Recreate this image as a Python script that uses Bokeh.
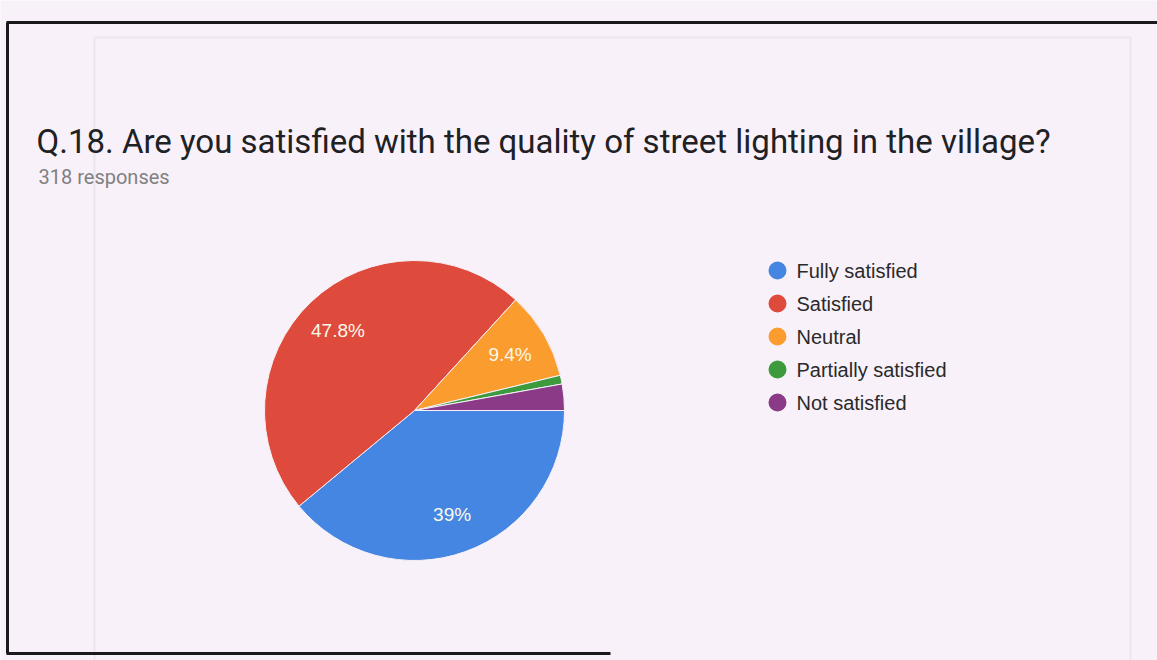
import math
from bokeh.plotting import figure
from bokeh.models import Range1d, ColumnDataSource
from bokeh.core.properties import value
from bokeh.embed import file_html
from bokeh.resources import INLINE

# ---- data ----
categories = ["Fully satisfied", "Satisfied", "Neutral", "Partially satisfied", "Not satisfied"]
counts = [124, 152, 30, 3, 9]
colors = ["#4486e2", "#de4a3b", "#fb9c2e", "#3d9a3d", "#8b3a87"]
title_text = "Q.18. Are you satisfied with the quality of street lighting in the village?"
subtitle_text = "318 responses"

W, H = 1157, 660
def X(px):
    return px
def Y(py):
    return H - py

p = figure(width=W, height=H, output_backend="svg", toolbar_location=None,
           x_range=Range1d(0, W), y_range=Range1d(0, H), min_border=0)
p.axis.visible = False
p.grid.visible = False
p.outline_line_color = None
p.background_fill_color = "#f8f1f9"
p.border_fill_color = "#f8f1f9"

# faint card frame (scan background)
p.multi_line(xs=[[X(94), X(94)], [X(94), X(1130)], [X(1130), X(1130)]],
             ys=[[Y(37), Y(660)], [Y(37), Y(37)], [Y(37), Y(660)]],
             line_color="#ebe5ef", line_width=2)

# black scan border: left, top, bottom
p.multi_line(xs=[[X(7), X(7)], [X(6), X(1157)], [X(6), X(610)]],
             ys=[[Y(22), Y(653)], [Y(22), Y(22)], [Y(653), Y(653)]],
             line_color="#1a1a1a", line_width=3)

# ---- pie ----
total = float(sum(counts))
starts, ends, mids = [], [], []
cum = 0.0
for c in counts:
    a0 = -2 * math.pi * cum / total
    cum += c
    a1 = -2 * math.pi * cum / total
    starts.append(a0)
    ends.append(a1)
    mids.append((a0 + a1) / 2)

cx, cy, r = X(414), Y(410), 150
src = ColumnDataSource(dict(start=starts, end=ends, color=colors, cat=categories))
p.wedge(x=cx, y=cy, radius=r, start_angle="start", end_angle="end",
        direction="clock", fill_color="color", line_color="#f8f1f9",
        line_width=1, source=src)

# slice labels (only larger slices)
lx, ly, lt = [], [], []
for c, m in zip(counts, mids):
    frac = c / total
    if frac < 0.05:
        continue
    pct = round(frac * 100, 1)
    txt = (f"{pct:.0f}%" if abs(pct - round(pct)) < 0.05 else f"{pct:.1f}%")
    lx.append(cx + 0.74 * r * math.cos(m))
    ly.append(cy + 0.74 * r * math.sin(m))
    lt.append(txt)
p.text(x=lx, y=ly, text=lt, text_color="#fcf8ec", text_font=value("Liberation Sans"),
       text_font_size="19px", text_align="center", text_baseline="middle")

# ---- legend ----
leg_y = [Y(270 + 33 * i) for i in range(len(categories))]
p.scatter(x=[X(777)] * len(categories), y=leg_y, size=18, marker="circle",
          fill_color=colors, line_color=None)
p.text(x=[X(796)] * len(categories), y=leg_y, text=categories, text_color="#2a2a2a",
       text_font=value("Liberation Sans"), text_font_size="20px",
       text_baseline="middle", text_align="left")

# ---- title ----
p.text(x=[X(36)], y=[Y(141)], text=[title_text], text_color="#202124",
       text_font=value("Roboto"), text_font_size="33px", text_baseline="alphabetic")
p.text(x=[X(38)], y=[Y(176)], text=[subtitle_text], text_color="#808080",
       text_font=value("Roboto"), text_font_size="20px", text_baseline="alphabetic")

open("out.html", "w").write(file_html(p, INLINE))
